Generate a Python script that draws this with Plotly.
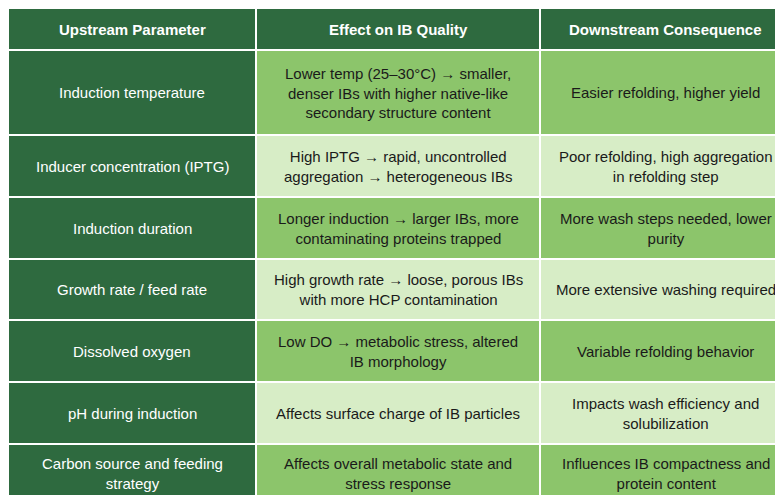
import plotly.graph_objects as go

headers = ["Upstream Parameter", "Effect on IB Quality", "Downstream Consequence"]

parameters = [
    "Induction temperature",
    "Inducer concentration (IPTG)",
    "Induction duration",
    "Growth rate / feed rate",
    "Dissolved oxygen",
    "pH during induction",
    "Carbon source and feeding<br>strategy",
]

effects = [
    "Lower temp (25–30°C) → smaller,<br>denser IBs with higher native-like<br>secondary structure content",
    "High IPTG → rapid, uncontrolled<br>aggregation → heterogeneous IBs",
    "Longer induction → larger IBs, more<br>contaminating proteins trapped",
    "High growth rate → loose, porous IBs<br>with more HCP contamination",
    "Low DO → metabolic stress, altered<br>IB morphology",
    "Affects surface charge of IB particles",
    "Affects overall metabolic state and<br>stress response",
]

consequences = [
    "Easier refolding, higher yield",
    "Poor refolding, high aggregation<br>in refolding step",
    "More wash steps needed, lower<br>purity",
    "More extensive washing required",
    "Variable refolding behavior",
    "Impacts wash efficiency and<br>solubilization",
    "Influences IB compactness and<br>protein content",
]

# grid layout (pixels)
col_edges = [0, 248, 532, 783]
row_edges = [0, 42, 127, 189, 251, 312, 374, 436, 495]

dark = "#2e6a3f"
mid = "#8cc56b"
light = "#d7edc6"
font = "Liberation Sans, Arial"

fig = go.Figure()
shapes, annotations = [], []

rows = [["<b>%s</b>" % h for h in headers]] + [list(r) for r in zip(parameters, effects, consequences)]
for r, row in enumerate(rows):
    y0, y1 = row_edges[r], row_edges[r + 1]
    for c, txt in enumerate(row):
        x0, x1 = col_edges[c], col_edges[c + 1]
        if r == 0 or c == 0:
            fill, color = dark, "white"
        else:
            fill, color = (mid if (r - 1) % 2 == 0 else light), "#1a1a1a"
        shapes.append(dict(type="rect", xref="x", yref="y", x0=x0, x1=x1, y0=y0, y1=y1,
                           fillcolor=fill, line=dict(color="white", width=2), layer="below"))
        annotations.append(dict(x=(x0 + x1) / 2, y=(y0 + y1) / 2, xref="x", yref="y",
                                text=txt, showarrow=False, align="center",
                                font=dict(color=color, size=15, family=font)))

fig.update_layout(
    width=783, height=495,
    margin=dict(l=0, r=0, t=0, b=0),
    paper_bgcolor="white", plot_bgcolor="white",
    shapes=shapes, annotations=annotations,
    xaxis=dict(range=[0, 783], visible=False, fixedrange=True),
    yaxis=dict(range=[495, 0], visible=False, fixedrange=True),
)

fig.write_html("out.html")
